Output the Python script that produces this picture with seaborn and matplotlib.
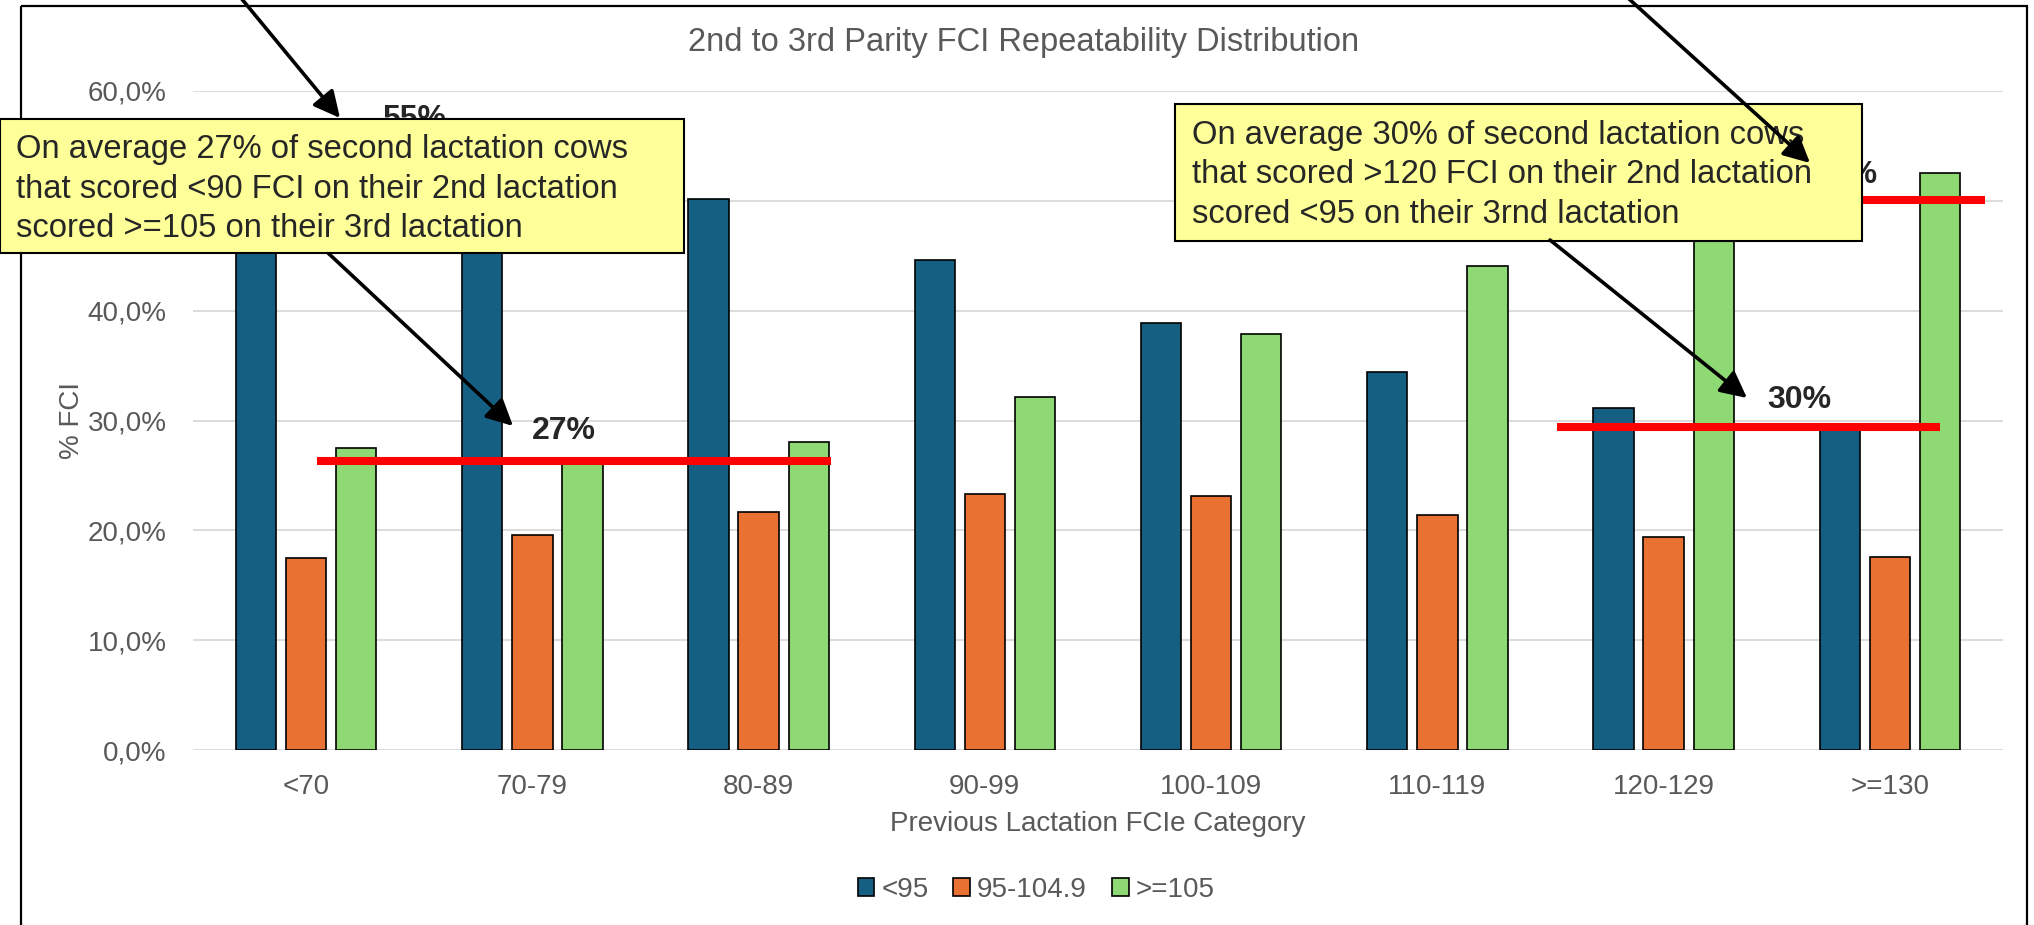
import numpy as np
import pandas as pd
import seaborn as sns
import matplotlib.pyplot as plt
from matplotlib.patches import Rectangle
from matplotlib.ticker import FuncFormatter

categories = ["<70", "70-79", "80-89", "90-99", "100-109", "110-119", "120-129", ">=130"]
groups = ["<95", "95-104.9", ">=105"]
pct_low = [57.2, 57.0, 50.2, 44.6, 38.9, 34.4, 31.1, 29.3]
pct_mid = [17.5, 19.6, 21.7, 23.3, 23.1, 21.4, 19.4, 17.6]
pct_high = [27.5, 26.5, 28.0, 32.1, 37.9, 44.1, 48.0, 52.5]
colors = ["#156082", "#E97132", "#8ED973"]

# red average lines: level in %, span in category units
avg_levels = [26.3, 29.4, 50.1]
avg_starts = [0.05, 5.53, 6.2]
avg_ends = [2.32, 7.22, 7.42]

title = "2nd to 3rd Parity FCI Repeatability Distribution"
note_left = ["On average 27% of second lactation cows",
             "that scored <90 FCI on their 2nd lactation",
             "scored >=105 on their 3rd lactation"]
note_right = ["On average 30% of second lactation cows",
              "that scored >120 FCI on their 2nd lactation",
              "scored <95 on their 3rnd lactation"]


def main():
    df = pd.DataFrame({
        "category": categories * 3,
        "group": [g for g in groups for _ in categories],
        "pct": np.array(pct_low + pct_mid + pct_high) / 100,
    })

    sns.set_style("white")
    plt.rcParams["font.family"] = ["Liberation Sans", "DejaVu Sans"]
    gray = "#595959"

    W, H = 2034, 925
    fig = plt.figure(figsize=(W / 100, H / 100), dpi=100)
    ax = fig.add_axes([193 / W, 1 - 750 / H, 1810 / W, 659 / H])

    sns.barplot(data=df, x="category", y="pct", hue="group", order=categories,
                hue_order=groups, palette=colors, width=0.663, gap=0.195,
                edgecolor="black", linewidth=1.2, saturation=1, ax=ax, zorder=2)

    ax.set_xlim(-0.5, 7.5)
    ax.set_ylim(0, 0.6)
    ax.set_yticks(np.arange(0, 0.61, 0.1))
    ax.yaxis.set_major_formatter(FuncFormatter(lambda v, _: f"{v * 100:.1f}%".replace(".", ",")))
    ax.grid(axis="y", color="#D9D9D9", lw=1.3)
    ax.set_axisbelow(True)
    for s in ax.spines.values():
        s.set_visible(False)
    ax.tick_params(length=0, labelsize=20, labelcolor=gray)
    ax.tick_params(axis="y", pad=19)
    ax.tick_params(axis="x", pad=17)
    ax.set_xlabel("Previous Lactation FCIe Category", fontsize=20, color=gray, labelpad=8)
    ax.set_ylabel("% FCI", fontsize=20, color=gray, labelpad=2)

    ax.hlines(np.array(avg_levels) / 100, avg_starts, avg_ends, color="red", lw=5.8, zorder=3)

    handles, labels = ax.get_legend_handles_labels()
    ax.get_legend().remove()
    fig.legend(handles, labels, loc="center", bbox_to_anchor=(1036 / W, 1 - 890 / H),
               ncol=3, frameon=False, fontsize=20, labelcolor=gray,
               handlelength=0.6, handleheight=0.6, handletextpad=0.25, columnspacing=0.9)

    # overlay in pixel coords for the frame, notes and arrows
    ov = fig.add_axes([0, 0, 1, 1], zorder=5)
    ov.set_xlim(0, W)
    ov.set_ylim(H, 0)
    ov.axis("off")

    ov.add_patch(Rectangle((21, 6), 2006, 940, fill=False, lw=1.6, ec="black", zorder=1))
    ov.text(1024, 43, title, ha="center", va="center", fontsize=23.5, color=gray)

    bold = dict(fontsize=23, fontweight="bold", va="baseline")
    ov.text(532, 439, "27%", zorder=4, **bold)
    ov.text(1767, 408, "30%", zorder=4, **bold)
    ov.text(382, 127, "55%", zorder=4, **bold)
    ov.text(1877, 183, "50%", ha="right", zorder=4, **bold)

    arrow = dict(arrowstyle="-|>,head_length=0.8,head_width=0.4", lw=2.6, color="black",
                 shrinkA=0, shrinkB=0, mutation_scale=20)
    ov.annotate("", xy=(340, 118), xytext=(241, -2), arrowprops=arrow, zorder=4)
    ov.annotate("", xy=(513, 426), xytext=(296, 223), arrowprops=arrow, zorder=4)
    ov.annotate("", xy=(1810, 163), xytext=(1628, -2), arrowprops=arrow, zorder=7)
    ov.annotate("", xy=(1747, 398), xytext=(1550, 240), arrowprops=arrow, zorder=7)

    ov.add_patch(Rectangle((0, 119), 684, 134, fc="#FFFF99", ec="black", lw=1.5, zorder=5))
    ov.add_patch(Rectangle((1175, 104), 687, 137, fc="#FFFF99", ec="black", lw=1.5, zorder=5))
    for i, line in enumerate(note_left):
        ov.text(16, 158 + 39.5 * i, line, fontsize=23.6, va="baseline", zorder=6)
    for i, line in enumerate(note_right):
        ov.text(1192, 144 + 39.3 * i, line, fontsize=23.6, va="baseline", zorder=6)

    fig.savefig("out.png", dpi=100)
    plt.close(fig)


if __name__ == "__main__":
    main()
